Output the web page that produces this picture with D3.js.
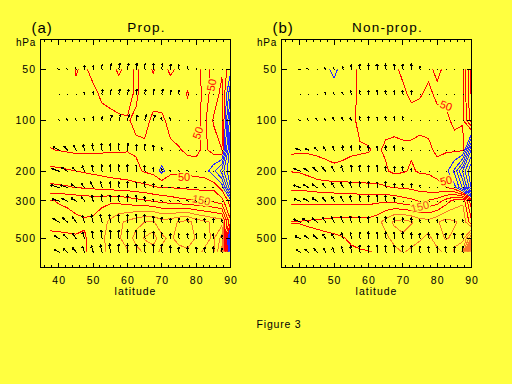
<!DOCTYPE html>
<html>
<head>
<meta charset="utf-8">
<script src="https://d3js.org/d3.v7.min.js"></script>
<style>
  body { margin: 0; background: #ffff40; }
  svg { display: block; }
  text { font-family: "Liberation Sans", Arial, sans-serif; fill: #000; }
  path, line, rect { shape-rendering: crispEdges; }
</style>
</head>
<body>
<svg id="fig" width="512" height="384"></svg>
<script>
// pressure levels (hPa), top to bottom
const levels = [50, 70, 100, 150, 200, 250, 300, 400, 500, 600];
// latitudes of the contoured field and of the flux vectors
const fieldLats = [37.5, 40, 42.5, 45, 47.5, 50, 52.5, 55, 57.5, 60, 62.5, 65, 67.5, 70, 72.5, 75, 77.5, 80, 82.5, 85, 87.5, 90];
const arrowLats = [40, 42.5, 45, 47.5, 50, 52.5, 55, 57.5, 60, 62.5, 65, 67.5, 70, 72.5, 75, 77.5, 80, 82.5, 85, 87.5];
const xTicks = [40, 50, 60, 70, 80, 90];
const yTicks = [50, 100, 200, 300, 500];

// (a) Prop. - contoured field, one row per level
const fieldA = [
  [15, 20, 30, 52, 45, 60, 55, 60, 45, 60, 45, 60, 48, 60, 45, 55, 60, 60, 40, 60, 90, 20],
  [20, 22, 28, 45, 40, 42, 55, 60, 65, 60, 45, 65, 60, 62, 65, 70, 105, 65, 40, 60, 120, -100],
  [28, 30, 30, 32, 35, 38, 40, 42, 45, 48, 55, 58, 45, 45, 58, 65, 70, 60, 40, 105, 130, -200],
  [52, 48, 44, 40, 40, 42, 44, 45, 46, 48, 45, 45, 45, 40, 45, 48, 55, 60, 40, 70, 100, -250],
  [115, 110, 105, 100, 95, 90, 85, 80, 75, 70, 60, 45, 35, -15, 35, 40, 35, 30, 25, -30, -120, -250],
  [161, 158, 155, 148, 145, 140, 135, 130, 128, 125, 120, 115, 105, 98, 98, 95, 92, 90, 85, 90, 30, -200],
  [252, 248, 245, 240, 235, 230, 235, 240, 235, 225, 215, 205, 195, 185, 175, 165, 158, 152, 145, 140, 120, 20],
  [262, 262, 260, 256, 254, 258, 280, 310, 340, 360, 380, 400, 405, 370, 380, 405, 415, 380, 360, 340, 330, 110],
  [240, 242, 245, 248, 246, 265, 290, 320, 345, 370, 420, 455, 480, 410, 390, 420, 430, 395, 370, 340, 420, -220],
  [235, 238, 240, 245, 246, 260, 290, 310, 330, 345, 380, 410, 420, 390, 370, 380, 390, 370, 340, 330, 470, -220]
];
// (b) Non-prop.
const fieldB = [
  [20, 20, 22, 25, 10, -10, 15, 30, 60, 62, 60, 60, 55, 45, 40, 40, 45, 55, 45, 40, 40, 210],
  [20, 22, 25, 28, 25, 18, 25, 35, 60, 62, 62, 60, 58, 55, 45, 48, 55, 45, 45, 40, 42, 210],
  [25, 28, 30, 32, 35, 35, 38, 40, 60, 62, 62, 60, 60, 60, 60, 60, 58, 58, 55, 45, 48, 180],
  [38, 40, 42, 42, 42, 40, 42, 45, 46, 48, 55, 45, 42, 45, 45, 40, 45, 55, 55, 60, 60, -210],
  [98, 95, 85, 70, 60, 56, 58, 62, 65, 65, 70, 55, 40, 45, 55, 45, 45, 40, 20, -60, -210, -360],
  [140, 138, 135, 130, 128, 125, 122, 118, 115, 112, 110, 105, 98, 95, 90, 80, 70, 60, 52, 20, -110, -310],
  [190, 190, 190, 188, 185, 185, 185, 185, 185, 185, 190, 190, 185, 170, 160, 145, 155, 170, 220, 270, 290, 110],
  [252, 252, 255, 258, 262, 265, 268, 270, 265, 265, 280, 320, 360, 370, 355, 330, 320, 345, 370, 355, 340, 210],
  [235, 236, 238, 240, 242, 244, 248, 255, 258, 262, 260, 285, 320, 340, 320, 305, 290, 320, 355, 340, 330, 510],
  [225, 226, 228, 230, 232, 235, 240, 245, 248, 249, 252, 260, 280, 305, 290, 280, 270, 290, 310, 355, 410, 910]
];

// flux vectors: meridional (uX) and vertical (wX) components, one row per level
const uA = [
  [-1, -1, -0.5, 0, 0.5, 0.5, 1, 1, 1, 1, 0.5, 0.5, 0.5, 0.5, 0, 0, 0, 0, 0, 0],
  [0, 0, 0, -0.5, 0, 1, 1, 1, 1, 1, 1, 1, 1, 0.5, 0, 0, 0, 0, 0, 0],
  [-0.5, -0.5, -0.5, -0.5, 0, 0.5, 1.5, 1.5, 1.5, 1.5, 1.5, 1.5, -0.5, -0.5, 0, 0, 0, 0, 0, 0],
  [-5, -3, -2, -1, -0.5, 0, 0, 0, 0.5, 0.5, 0.5, 0, 0, 0, 0, 0, 0, 0, 0, 0],
  [-6, -5, -3, -2, -1, 0, 0, 0, 0, 0, 0, 0, 0, -0.5, -0.5, -0.5, 0, 0, 0, 0],
  [-7, -6, -4, -3, -2, -1, 0, 0, 0, 0, 0, 0, 0, -1, -1, -1, -1, -0.5, -0.5, 0],
  [-6, -5, -4, -2.5, -1, 0, 0, 0, 0, 0, 0, 0, -1, -1, -1, -0.5, -0.5, 0, 0, 0],
  [-5, -4, -3, -2, -1.5, -1, -0.5, 0, 0, 0, 0, 0, 0, 0, 0, 0, 0, 0, 0, 0],
  [-4, -3.5, -3, -2, -1, -0.5, 0, 0, 0, 0, 0, 0, 0, 0, 0, 0, 0, 0, 0, 0],
  [-4, -3.5, -3, -2, -1.5, -1, -0.5, 0, 0, 0, 0, 0, 0, 0, 0, 0, 0, 0, 0, 0]
];
const wA = [
  [0.5, 1, 1.5, 3, 3, 4, 4.5, 5, 5, 5, 5, 5, 5, 4.5, 4, 2, 1, 0.5, 0.5, 0.3],
  [0.3, 0.5, 0.5, 1.5, 2, 4, 4, 4, 4, 4, 4, 4, 4, 3.5, 3, 0.5, 0.3, 0.3, 0.3, 0.3],
  [0.5, 1, 1.5, 1.5, 3, 3, 4.5, 4.5, 4.5, 4.5, 4.5, 4.5, 2, 2, 0.5, 0.3, 0.3, 0.3, 0.3, 0.3],
  [2.5, 3, 4, 4.5, 5, 5.5, 5.5, 5.5, 5.5, 5, 5, 4, 2, 0.5, 0.3, 0.3, 0.3, 0.3, 0.3, 0.3],
  [2, 3, 3.5, 4.5, 5, 5.5, 5.5, 5.5, 5.5, 5.5, 5, 3, 2, 0.5, 0.3, 0.3, 0.3, 0.3, 0.3, 0.3],
  [2, 2, 3, 3.5, 4.5, 5, 5, 5, 5, 5, 5, 3.5, 2, 0, 0, 0, 0, 0.3, 0.3, 0.3],
  [1.5, 2, 2.5, 3.5, 4.5, 5, 5, 5, 5, 5, 3.5, 1.5, 0, 0, 0, 0.3, 0.3, 0.3, 0.3, 0.3],
  [3, 3.5, 4.5, 5.5, 6, 6.5, 6.5, 6.5, 6.5, 6.5, 6.5, 5, 4, 3, 3, 3, 3, 3, 3, 2],
  [2.5, 3.5, 4.5, 5.5, 6, 7, 7, 7, 7, 7, 7, 6, 5, 4, 4, 4, 4, 4, 4, 3],
  [2, 2.5, 3.5, 4.5, 5, 6, 6.5, 6.5, 6.5, 6.5, 6.5, 6.5, 6.5, 5, 4, 4, 4, 4, 4, 3]
];
const uB = [
  [-1, -1, 0, -0.5, -0.5, 0, 0, 0, 0, 0, 0, 0, 0, 0, 0, 0, 0, 0, 0, 0],
  [0, 0, 0, -0.5, -0.5, -0.5, -0.5, 0, 0, 0, 0, 0, 0, 0, 0, 0, 0, 0, 0, 0],
  [-1, -1, -1, -1, -1, -1, -1, 0, 0, 0, 0, 0, 0, 0, 0, 0, 0, 0, 0, 0],
  [-3, -2.5, -2, -1.5, -1, 0, 0, 0, 0, 0, 0, 0, 0, 0, 0, 0, 0, 0, 0, 0],
  [-5, -4, -3.5, -3, -2, -1, 0, 0, 0, 0, 0, 0, 0, 0, 0, 0, 0, 0, 0, 0],
  [-5.5, -4.5, -4, -3, -2, -1.5, -1, 0, 0, 0, 0, 0, 0, 0, 0, 0, 0, 0, 0, 0],
  [-5, -4.5, -4, -3, -2, -1.5, -1, 0, 0, 0, 0, 0, 0, 0, 0, 0, 0, 0, 0, 0],
  [-5.5, -5, -4, -3, -2.5, -1.5, -1, -0.5, 0, 0, 0, 0, 0, 0, 0, 0, 0, 0, 0, 0],
  [-4, -3.5, -3, -2.5, -2, -1, -0.5, 0, 0, 0, 0, 0, 0, 0, 0, 0, 0, 0, 0, 0],
  [-3, -3, -2.5, -2, -1.5, -1, -0.5, 0, 0, 0, 0, 0, 0, 0, 0, 0, 0, 0, 0, 0]
];
const wB = [
  [0, 0.5, 0.5, 1, 1.5, 2.5, 4, 4.5, 4.5, 4.5, 4.5, 4.5, 4.5, 4.5, 3, 0.3, 0.3, 0.3, 0.3, 0.3],
  [0.3, 0.3, 0.3, 1.5, 1.5, 1.5, 2.5, 3, 3, 3, 3, 3, 3, 3, 0.3, 0.3, 0.3, 0.3, 0.3, 0.3],
  [0.5, 1.5, 1.5, 1.5, 2.5, 2.5, 2.5, 3, 3, 3, 3, 3, 3, 0.3, 0.3, 0.3, 0.3, 0.3, 0.3, 0.3],
  [1, 1.5, 2, 2.5, 3, 3.5, 3.5, 3.5, 3.5, 3.5, 3.5, 3.5, 2, 0.3, 0.3, 0.3, 0.3, 0.3, 0.3, 0.3],
  [2, 2.5, 3, 3.5, 4, 4.5, 5, 5, 5, 5, 4, 4, 4, 2, 0.3, 0.3, 0.3, 0.3, 0.3, 0.3],
  [2, 2.5, 3, 3.5, 4, 4.5, 5, 5, 5, 5, 5, 3.5, 3.5, 3.5, 2, 0.3, 0.3, 0.3, 0.3, 0.3],
  [1.5, 2, 2.5, 3, 3.5, 4, 4.5, 4.5, 4.5, 4.5, 4.5, 3, 0.3, 0.3, 0.3, 0.3, 0.3, 0.3, 0.3, 0.3],
  [2.5, 3, 3.5, 4, 4.5, 5, 5, 5, 4.5, 4.5, 4.5, 3.5, 3.5, 3.5, 2, 2, 2, 2, 2, 2],
  [2, 2.5, 3, 3.5, 4, 4.5, 5, 5.5, 5.5, 5.5, 5.5, 5.5, 5.5, 4.5, 4.5, 4.5, 4.5, 4.5, 4.5, 4.5],
  [1.5, 2, 2.5, 3, 3.5, 4.5, 5, 5.5, 5.5, 5.5, 5.5, 5.5, 5.5, 5.5, 4.5, 4.5, 4.5, 4.5, 4.5, 4.5]
];

// contour labels: [text, lat, hPa, angle]
const labelsA = [["50", 84.5, 62, -80], ["50", 80.5, 119, -70], ["50", 76.5, 216, 0], ["150", 81.5, 297, 12]];
const labelsB = [["50", 82.6, 82, 20], ["50", 82.6, 228, -12], ["150", 75, 325, -15]];

const thresholds = d3.range(-400, 1000, 50);
const BG = "#ffff40";
function lineColor(v) {
  if (v <= 0) return "#2828ff";
  if (v <= 250) return "#ff0000";
  return "#fa7828";
}

const svg = d3.select("#fig");
svg.append("rect").attr("width", 512).attr("height", 384).attr("fill", BG);

const frameTop = 39.5, frameBottom = 267.5, panelW = 190;
const y = d3.scaleLog().domain([50, 500]).range([69.3, 238.3]);
const vec = d3.scaleLinear().domain([0, 1]).range([0, 1.15]);

const panels = [
  {key: "a", tag: "(a)", title: "Prop.", left: 40.5, field: fieldA, u: uA, w: wA, labels: labelsA},
  {key: "b", tag: "(b)", title: "Non-prop.", left: 281.5, field: fieldB, u: uB, w: wB, labels: labelsB}
];

panels.forEach(p => {
  const x = d3.scaleLinear().domain([34.7, 90]).range([p.left, p.left + panelW]);
  const g = svg.append("g");

  // grid index -> screen
  function toScreen(pt) {
    const lat = fieldLats[0] + (pt[0] - 0.5) * 2.5;
    const r = pt[1] - 0.5;
    const k = Math.max(0, Math.min(levels.length - 2, Math.floor(r)));
    const t = r - k;
    const lp = Math.log(levels[k]) + t * (Math.log(levels[k + 1]) - Math.log(levels[k]));
    return [x(lat), y(Math.exp(lp))];
  }

  const clipId = "clip" + p.key;
  svg.append("clipPath").attr("id", clipId).append("rect")
    .attr("x", x(fieldLats[0])).attr("y", y(levels[0]))
    .attr("width", x(90) - x(fieldLats[0]))
    .attr("height", y(levels[levels.length - 1]) - y(levels[0]));

  const values = p.field.flat();
  const contours = d3.contours().size([fieldLats.length, levels.length]).thresholds(thresholds)(values);

  g.append("g").attr("clip-path", `url(#${clipId})`)
    .selectAll("path").data(contours).join("path")
    .attr("fill", "none")
    .attr("stroke", d => lineColor(d.value))
    .attr("stroke-width", 1)
    .attr("d", d => d.coordinates.map(poly => poly.map(ring =>
      "M" + ring.map(pt => toScreen(pt).join(",")).join("L") + "Z").join("")).join(""));

  // contour labels
  g.selectAll("text.clab").data(p.labels).join("text")
    .attr("class", "clab")
    .attr("transform", d => `translate(${x(d[1])},${y(d[2])}) rotate(${d[3]})`)
    .attr("text-anchor", "middle").attr("dy", "0.35em")
    .style("font-size", "11px")
    .style("fill", d => d[0] === "150" ? "#f04820" : "#ff0000")
    .attr("stroke", BG).attr("stroke-width", 3).attr("paint-order", "stroke")
    .text(d => d[0]);

  // flux vectors
  const arrows = [];
  levels.forEach((lev, i) => arrowLats.forEach((lat, j) => {
    arrows.push({x0: x(lat), y0: y(lev), dx: vec(p.u[i][j]), dy: -vec(p.w[i][j])});
  }));
  const ag = g.append("g").attr("stroke", "#000").attr("stroke-width", 1).attr("fill", "none");
  ag.selectAll("rect").data(arrows).join("rect")
    .attr("x", d => Math.round(d.x0)).attr("y", d => Math.round(d.y0))
    .attr("width", 1).attr("height", 1).attr("fill", "#000").attr("stroke", "none");
  ag.selectAll("path").data(arrows.filter(d => Math.hypot(d.dx, d.dy) > 0.6)).join("path")
    .attr("d", d => {
      const x1 = d.x0 + d.dx, y1 = d.y0 + d.dy;
      const L = Math.hypot(d.dx, d.dy), ux = d.dx / L, uy = d.dy / L;
      const h = Math.min(2, L * 0.5);
      const hx1 = x1 - h * (ux * Math.cos(0.6) - uy * Math.sin(0.6));
      const hy1 = y1 - h * (uy * Math.cos(0.6) + ux * Math.sin(0.6));
      const hx2 = x1 - h * (ux * Math.cos(-0.6) - uy * Math.sin(-0.6));
      const hy2 = y1 - h * (uy * Math.cos(-0.6) + ux * Math.sin(-0.6));
      return `M${d.x0},${d.y0}L${x1},${y1}M${hx1},${hy1}L${x1},${y1}L${hx2},${hy2}`;
    });

  // frame and ticks
  g.append("rect").attr("x", p.left).attr("y", frameTop).attr("width", panelW).attr("height", frameBottom - frameTop)
    .attr("fill", "none").attr("stroke", "#000").attr("stroke-width", 1);
  const minor = d3.range(36, 90, 2).filter(v => v % 10 !== 0);
  const tk = g.append("g").attr("stroke", "#000").attr("stroke-width", 1);
  xTicks.forEach(v => {
    tk.append("line").attr("x1", x(v)).attr("x2", x(v)).attr("y1", frameTop).attr("y2", frameTop + 5);
    tk.append("line").attr("x1", x(v)).attr("x2", x(v)).attr("y1", frameBottom).attr("y2", frameBottom - 5);
  });
  minor.forEach(v => {
    tk.append("line").attr("x1", x(v)).attr("x2", x(v)).attr("y1", frameTop).attr("y2", frameTop + 2.5);
    tk.append("line").attr("x1", x(v)).attr("x2", x(v)).attr("y1", frameBottom).attr("y2", frameBottom - 2.5);
  });
  yTicks.forEach(v => {
    tk.append("line").attr("x1", p.left).attr("x2", p.left + 5).attr("y1", y(v)).attr("y2", y(v));
    tk.append("line").attr("x1", p.left + panelW).attr("x2", p.left + panelW - 5).attr("y1", y(v)).attr("y2", y(v));
  });

  // tick labels
  g.selectAll("text.yl").data(yTicks).join("text").attr("class", "yl")
    .attr("x", p.left - 4.5).attr("y", d => y(d)).attr("dy", "0.36em")
    .attr("text-anchor", "end").style("font-size", "10.5px").style("letter-spacing", "1px")
    .text(d => d);
  g.selectAll("text.xl").data(xTicks).join("text").attr("class", "xl")
    .attr("x", d => x(d) + 0.5).attr("y", 283.5)
    .attr("text-anchor", "middle").style("font-size", "10.5px").style("letter-spacing", "1px")
    .text(d => d);
  g.append("text").attr("x", p.left + 95).attr("y", 295).attr("text-anchor", "middle")
    .style("font-size", "10.5px").style("letter-spacing", "1px").text("latitude");
  g.append("text").attr("x", p.left - 24.5).attr("y", 45.5)
    .style("font-size", "10px").style("letter-spacing", "0.8px").text("hPa");
  g.append("text").attr("x", p.left - 9).attr("y", 33)
    .style("font-size", "15px").style("letter-spacing", "1px").text(p.tag);
  g.append("text").attr("x", p.left + 106).attr("y", 32).attr("text-anchor", "middle")
    .style("font-size", "13.5px").style("letter-spacing", "1.2px").text(p.title);
});

svg.append("text").attr("x", 279).attr("y", 328).attr("text-anchor", "middle")
  .style("font-size", "10.5px").style("letter-spacing", "0.8px").text("Figure 3");
</script>
</body>
</html>
